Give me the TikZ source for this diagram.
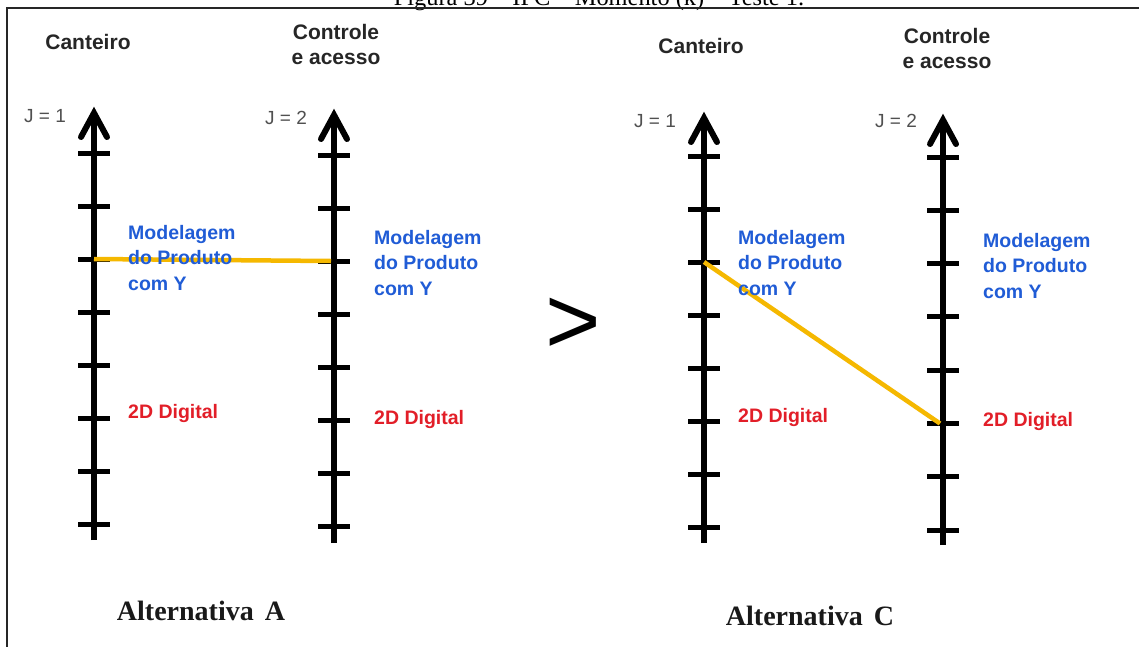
\documentclass[tikz,border=0pt]{standalone}
\usepackage{fontspec}
\setmainfont{Liberation Serif}
\setsansfont{Liberation Sans}
\definecolor{lblblue}{RGB}{32,92,214}
\definecolor{lblred}{RGB}{226,30,40}
\definecolor{lnyellow}{RGB}{245,184,0}
\definecolor{jgray}{RGB}{80,80,80}
\tikzset{
  axisline/.style={line width=6pt, black},
  headline/.style={line width=6pt, black, line cap=round, line join=miter},
  tickline/.style={line width=5pt, black},
  linkline/.style={line width=4.5pt, lnyellow},
  title/.style={font=\sffamily\bfseries\fontsize{21}{25}\selectfont, text=black!85, align=center, inner sep=0pt},
  jlabel/.style={font=\sffamily\fontsize{19}{22}\selectfont, text=jgray, inner sep=0pt},
  bluelabel/.style={font=\sffamily\bfseries\fontsize{19.5}{25.5}\selectfont, text=lblblue, align=left, anchor=west, inner sep=0pt},
  redlabel/.style={font=\sffamily\bfseries\fontsize{19.5}{25.5}\selectfont, text=lblred, anchor=west, inner sep=0pt},
  alttitle/.style={font=\bfseries\fontsize{28}{32}\selectfont, text=black!90, inner sep=0pt},
}
\newcommand\drawtimeaxis[6]{%
  \draw[axisline] (#2,#6) -- (#2,#3+3);
  \draw[headline] (#2-13,#3+27) -- (#2,#3+3) -- (#2+13,#3+27);
  \foreach \k in {0,...,7} {
    \draw[tickline] (#2-16,#4+\k*#5) -- (#2+16,#4+\k*#5);
    \coordinate (#1\k) at (#2,#4+\k*#5);
  }
}
\begin{document}
\begin{tikzpicture}[x=1pt,y=-1pt]
\useasboundingbox (0,0) rectangle (1139,646);
\clip (0,0) rectangle (1139,646);
\fill[white] (0,0) rectangle (1139,646);
% clipped caption (cut off at the top, as in the source)
\node[font=\fontsize{24.4}{28}\selectfont, anchor=base, inner sep=0pt] (caption) at (599,5) {Figura 39 – IPC – Momento (k) – Teste 1.};
% frame
\draw[line width=2pt, black!85] (1150,8) -- (7,8) -- (7,660);
% axes
\drawtimeaxis{aL}{94}{110}{153}{53}{540}
\drawtimeaxis{aR}{334}{112}{155}{53}{543}
\drawtimeaxis{cL}{704}{115}{156}{53}{543}
\drawtimeaxis{cR}{943}{117}{157}{53.3}{545}
% links
\draw[linkline] (aL2) -- ([xshift=-3pt]aR2);
\draw[linkline] (cL2) -- ([xshift=-3pt]cR5);
% titles
\node[title] (tAL) at (88,42) {Canteiro};
\node[title] (tAR) at (336,44) {Controle\\e acesso};
\node[title] (tCL) at (701,46) {Canteiro};
\node[title] (tCR) at (947,48) {Controle\\e acesso};
% J labels
\node[jlabel] (jAL) at (45,116) {J = 1};
\node[jlabel] (jAR) at (286,118) {J = 2};
\node[jlabel] (jCL) at (655,121) {J = 1};
\node[jlabel] (jCR) at (896,121) {J = 2};
% blue labels
\node[bluelabel] (mAL) at (128,258) {Modelagem\\do Produto\\com Y};
\node[bluelabel] (mAR) at (374,263) {Modelagem\\do Produto\\com Y};
\node[bluelabel] (mCL) at (738,263) {Modelagem\\do Produto\\com Y};
\node[bluelabel] (mCR) at (983,266) {Modelagem\\do Produto\\com Y};
% red labels
\node[redlabel] (dAL) at (128,413) {2D Digital};
\node[redlabel] (dAR) at (374,419) {2D Digital};
\node[redlabel] (dCL) at (738,417) {2D Digital};
\node[redlabel] (dCR) at (983,421) {2D Digital};
% comparison sign
\node[font=\sffamily\fontsize{95}{95}\selectfont, inner sep=0pt] (gt) at (573,326) {>};
% alternatives
\node[alttitle] (altA) at (201,611) {Alternativa\hspace{11pt}A};
\node[alttitle] (altC) at (810,616) {Alternativa\hspace{11pt}C};
\end{tikzpicture}
\end{document}
